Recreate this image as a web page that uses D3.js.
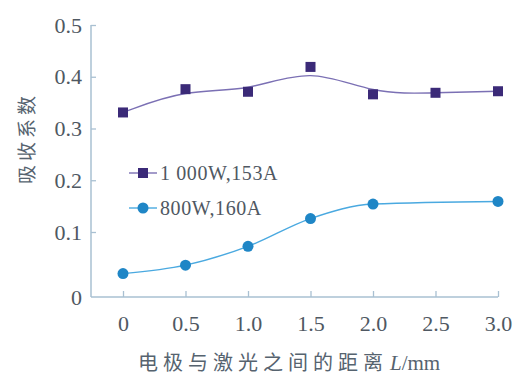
<!DOCTYPE html>
<html>
<head>
<meta charset="utf-8">
<script src="https://cdn.jsdelivr.net/npm/d3@7"></script>
<style>
  html, body { margin: 0; padding: 0; background: #fff; }
  svg { display: block; }
</style>
</head>
<body>
<svg id="chart" width="520" height="375"></svg>
<script>
// Absorption coefficient vs. electrode–laser distance
const xTicks = [0, 0.5, 1.0, 1.5, 2.0, 2.5, 3.0];
const xTickLabels = ["0", "0.5", "1.0", "1.5", "2.0", "2.5", "3.0"];
const yTicks = [0, 0.1, 0.2, 0.3, 0.4, 0.5];
const yTickLabels = ["0", "0.1", "0.2", "0.3", "0.4", "0.5"];

const seriesNames = ["1 000W,153A", "800W,160A"];

const distA = [0, 0.5, 1.0, 1.5, 2.0, 2.5, 3.0];
const absorbA = [0.331, 0.376, 0.371, 0.419, 0.366, 0.369, 0.372];

const distB = [0, 0.5, 1.0, 1.5, 2.0, 3.0];
const absorbB = [0.036, 0.049, 0.078, 0.126, 0.154, 0.159];

const svg = d3.select("#chart");

const axisColor = "#a9c0d2";
const textColor = "#4f5862";
const titleColor = "#56636f";
const purple = "#3b2a78";
const purpleLine = "#7b70b4";
const blue = "#1f86c6";
const blueLine = "#4aa9e0";

const x = d3.scaleLinear().domain([0, 3]).range([123, 498]);
// the printed axis has a slightly taller first interval
const y = d3.scaleLinear().domain([0, 0.1, 0.5]).range([297, 232, 25]);
const axisLeftX = 91;

// axis lines
svg.append("line")
  .attr("x1", axisLeftX).attr("x2", x(3))
  .attr("y1", y(0)).attr("y2", y(0))
  .attr("stroke", axisColor).attr("stroke-width", 1.5);
svg.append("line")
  .attr("x1", axisLeftX).attr("x2", axisLeftX)
  .attr("y1", y(0)).attr("y2", y(0.5))
  .attr("stroke", axisColor).attr("stroke-width", 1.5);

// x axis ticks (inward) and labels
const xAxis = svg.append("g")
  .attr("transform", `translate(0,${y(0)})`)
  .call(d3.axisBottom(x).tickValues(xTicks)
    .tickSize(-6).tickPadding(18)
    .tickFormat((d, i) => xTickLabels[i]));
xAxis.select(".domain").remove();
xAxis.selectAll(".tick line").attr("stroke", axisColor).attr("stroke-width", 1.3);
xAxis.selectAll(".tick text")
  .attr("fill", textColor)
  .style("font-family", "'Liberation Serif', 'DejaVu Serif', serif")
  .style("font-size", "22px");

// y axis ticks (inward) and labels
const yAxis = svg.append("g")
  .attr("transform", `translate(${axisLeftX},0)`)
  .call(d3.axisLeft(y).tickValues(yTicks)
    .tickSize(-5).tickPadding(9)
    .tickFormat((d, i) => yTickLabels[i]));
yAxis.select(".domain").remove();
yAxis.selectAll(".tick line").attr("stroke", axisColor).attr("stroke-width", 1.3);
yAxis.selectAll(".tick text")
  .attr("fill", textColor)
  .style("font-family", "'Liberation Serif', 'DejaVu Serif', serif")
  .style("font-size", "22px");
yAxis.selectAll(".tick").filter(d => d === 0).select("line").remove();

// series A: smoothed curve with square markers
const ptsA = distA.map((d, i) => [d, absorbA[i]]);
svg.append("path")
  .datum(ptsA)
  .attr("fill", "none")
  .attr("stroke", purpleLine)
  .attr("stroke-width", 1.4)
  .attr("d", d3.line().x(d => x(d[0])).y(d => y(d[1])).curve(d3.curveBasis));
svg.append("g").selectAll("rect")
  .data(ptsA).join("rect")
  .attr("x", d => x(d[0]) - 5).attr("y", d => y(d[1]) - 5)
  .attr("width", 10).attr("height", 10)
  .attr("fill", purple);

// series B: line with circle markers
const ptsB = distB.map((d, i) => [d, absorbB[i]]);
svg.append("path")
  .datum(ptsB)
  .attr("fill", "none")
  .attr("stroke", blueLine)
  .attr("stroke-width", 1.4)
  .attr("d", d3.line().x(d => x(d[0])).y(d => y(d[1])).curve(d3.curveMonotoneX));
svg.append("g").selectAll("circle")
  .data(ptsB).join("circle")
  .attr("cx", d => x(d[0])).attr("cy", d => y(d[1]))
  .attr("r", 5.5)
  .attr("fill", blue);

// legend
const legend = svg.append("g");
const legendRows = [
  { name: seriesNames[0], yy: 173, line: purpleLine, mark: "square", color: purple },
  { name: seriesNames[1], yy: 208, line: blueLine, mark: "circle", color: blue }
];
legendRows.forEach(r => {
  legend.append("line")
    .attr("x1", 129).attr("x2", 157)
    .attr("y1", r.yy).attr("y2", r.yy)
    .attr("stroke", r.line).attr("stroke-width", 1.4);
  if (r.mark === "square") {
    legend.append("rect")
      .attr("x", 138).attr("y", r.yy - 5)
      .attr("width", 10).attr("height", 10)
      .attr("fill", r.color);
  } else {
    legend.append("circle")
      .attr("cx", 143).attr("cy", r.yy).attr("r", 5.5)
      .attr("fill", r.color);
  }
  legend.append("text")
    .attr("x", 160).attr("y", r.yy)
    .attr("dy", "0.35em")
    .attr("fill", textColor)
    .style("font-family", "'Liberation Serif', 'DejaVu Serif', serif")
    .style("font-size", "20px")
    .style("letter-spacing", "0.6px")
    .text(r.name);
});

// axis titles
svg.append("text")
  .attr("transform", "translate(27,138) rotate(-90)")
  .attr("text-anchor", "middle")
  .attr("dy", "0.35em")
  .attr("fill", titleColor)
  .style("font-family", "'Noto Sans CJK SC', sans-serif")
  .style("font-size", "19px")
  .style("letter-spacing", "4px")
  .text("吸收系数");

const xTitle = svg.append("text")
  .attr("x", 138).attr("y", 370)
  .attr("fill", titleColor)
  .style("font-family", "'Noto Sans CJK SC', sans-serif")
  .style("font-size", "20px");
xTitle.append("tspan").style("letter-spacing", "5px").text("电极与激光之间的距离");
xTitle.append("tspan")
  .style("font-family", "'Liberation Serif', serif")
  .style("font-size", "21px")
  .attr("dx", 2)
  .html("<tspan font-style='italic'>L</tspan>/mm");
</script>
</body>
</html>
